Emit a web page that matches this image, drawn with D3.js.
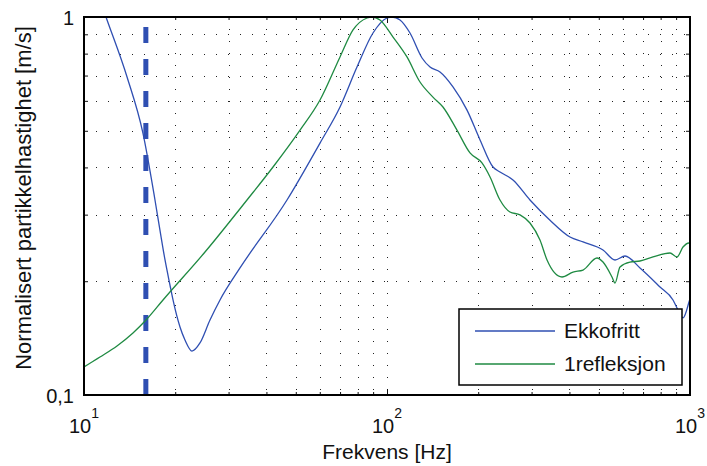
<!DOCTYPE html>
<html>
<head>
<meta charset="utf-8">
<script src="https://cdn.jsdelivr.net/npm/d3@7"></script>
<style>
  html, body { margin: 0; padding: 0; background: #fff; }
  svg { display: block; }
  text { font-family: "Liberation Sans", Arial, sans-serif; fill: #111; }
</style>
</head>
<body>
<svg id="chart" width="707" height="466"></svg>
<script>
// Frequency response, normalised particle velocity
const ekkoFreq = [10, 11.82, 13.87, 15.65, 17.15, 17.81, 18.51, 19.22, 19.67, 20.74, 21.54, 22.72, 24.14, 26.05, 28.11, 32.72, 46.77, 60.1, 69.98, 79.6, 89.9, 100, 103.9, 110.4, 119.1, 130.5, 138.7, 149.6, 165.1, 183.7, 202.8, 223.8, 236.0, 260.5, 296.4, 345.1, 401.8, 443.6, 516.3, 565.6, 610.3, 683.9, 796.1, 878.9, 906.0, 948.2, 992.4, 1000];
const ekkoVal  = [1.47, 1.0, 0.694, 0.493, 0.328, 0.273, 0.2276, 0.1954, 0.1784, 0.1513, 0.1398, 0.1307, 0.1373, 0.1579, 0.1784, 0.2168, 0.328, 0.464, 0.578, 0.737, 0.907, 0.994, 1.0, 0.982, 0.907, 0.779, 0.737, 0.715, 0.653, 0.567, 0.473, 0.401, 0.389, 0.3705, 0.328, 0.290, 0.2618, 0.2540, 0.2419, 0.2276, 0.2332, 0.2168, 0.1931, 0.1784, 0.1699, 0.1599, 0.1762, 0.18];

const reflFreq = [10, 11.29, 12.85, 14.51, 16.02, 18.23, 25.08, 34.51, 42.06, 51.64, 60.1, 69.98, 77.24, 85.9, 89.2, 94.8, 104.7, 116.4, 128.5, 141.8, 153.0, 170.2, 187.9, 205.8, 218.8, 236.0, 254.6, 274.8, 296.4, 319.8, 337.4, 378.1, 411.1, 443.6, 493.3, 516.3, 552.8, 565.6, 587.5, 633.9, 683.9, 755.0, 859.0, 906.0, 948.2, 992.4, 1000];
const reflVal  = [0.1186, 0.1260, 0.1348, 0.1459, 0.1579, 0.1784, 0.2389, 0.328, 0.401, 0.502, 0.603, 0.784, 0.924, 0.994, 1.0, 0.982, 0.885, 0.784, 0.673, 0.614, 0.578, 0.502, 0.437, 0.411, 0.3774, 0.328, 0.3049, 0.2995, 0.2851, 0.2570, 0.2276, 0.2052, 0.2115, 0.2141, 0.2304, 0.2248, 0.2052, 0.1978, 0.2182, 0.2248, 0.2262, 0.2318, 0.2375, 0.2318, 0.2463, 0.2524, 0.2524];

const seriesNames = ["Ekkofritt", "1refleksjon"];
const markerFreq = [16];

const xMajor = [10, 100, 1000];
const xMinor = [20, 30, 40, 50, 60, 70, 80, 90, 200, 300, 400, 500, 600, 700, 800, 900];
const xTickExp = ["1", "2", "3"];
const yMajor = [0.1, 1];
const yMinor = [0.2, 0.3, 0.4, 0.5, 0.6, 0.7, 0.8, 0.9];
const yTickLabels = ["0,1", "1"];

const xTitle = "Frekvens [Hz]";
const yTitle = "Normalisert partikkelhastighet [m/s]";

const blue = "#2f4fb2";
const green = "#1f8a42";

const m = { left: 84, right: 690, top: 17, bottom: 395 };
const svg = d3.select("#chart");

const x = d3.scaleLog().domain([10, 1000]).range([m.left, m.right]);
const y = d3.scaleLog().domain([0.1, 1]).range([m.bottom, m.top]);

svg.append("defs").append("clipPath").attr("id", "plotclip")
  .append("rect").attr("x", m.left).attr("y", m.top)
  .attr("width", m.right - m.left).attr("height", m.bottom - m.top);

// dotted grid
const grid = svg.append("g").attr("stroke", "#222").attr("stroke-width", 1)
  .attr("stroke-dasharray", "1,11");
grid.selectAll("line.v").data(xMinor.concat([100])).join("line")
  .attr("x1", d => Math.round(x(d)) + 0.5).attr("x2", d => Math.round(x(d)) + 0.5)
  .attr("y1", m.top).attr("y2", m.bottom);
grid.selectAll("line.h").data(yMinor).join("line")
  .attr("y1", d => Math.round(y(d)) + 0.5).attr("y2", d => Math.round(y(d)) + 0.5)
  .attr("x1", m.left).attr("x2", m.right);

// inward ticks on all four sides
function ticks(axisFn, scale, vals, size, tx, ty) {
  const g = svg.append("g").attr("transform", `translate(${tx},${ty})`)
    .call(axisFn(scale).tickValues(vals).tickSize(size).tickFormat(""));
  g.select(".domain").remove();
  g.selectAll("line").attr("stroke", "#111").attr("stroke-width", 1);
}
ticks(d3.axisBottom, x, xMinor, -3, 0, m.bottom);
ticks(d3.axisBottom, x, xMajor, -6, 0, m.bottom);
ticks(d3.axisTop, x, xMinor, -3, 0, m.top);
ticks(d3.axisTop, x, xMajor, -6, 0, m.top);
ticks(d3.axisLeft, y, yMinor, -4, m.left, 0);
ticks(d3.axisRight, y, yMinor, -4, m.right, 0);

// curves
const line = d3.line().curve(d3.curveMonotoneX);
const plot = svg.append("g").attr("clip-path", "url(#plotclip)");

// marker line at 16 Hz
plot.selectAll("line.marker").data(markerFreq).join("line")
  .attr("x1", d => x(d)).attr("x2", d => x(d))
  .attr("y1", m.bottom).attr("y2", m.top)
  .attr("stroke", blue).attr("stroke-width", 5).attr("stroke-dasharray", "16,16");

plot.append("path")
  .attr("d", line(ekkoFreq.map((f, i) => [x(f), y(ekkoVal[i])])))
  .attr("fill", "none").attr("stroke", blue).attr("stroke-width", 1.3);
plot.append("path")
  .attr("d", line(reflFreq.map((f, i) => [x(f), y(reflVal[i])])))
  .attr("fill", "none").attr("stroke", green).attr("stroke-width", 1.3);

// axes box
svg.append("rect").attr("x", m.left).attr("y", m.top)
  .attr("width", m.right - m.left).attr("height", m.bottom - m.top)
  .attr("fill", "none").attr("stroke", "#000").attr("stroke-width", 2);

// tick labels
const xl = svg.append("g").selectAll("text").data(xMajor).join("text")
  .attr("x", d => x(d)).attr("y", 433).attr("text-anchor", "middle")
  .style("font-size", "20px");
xl.append("tspan").text("10");
xl.append("tspan").attr("dy", -15).style("font-size", "14px").text((d, i) => xTickExp[i]);

svg.append("g").selectAll("text").data(yMajor).join("text")
  .attr("x", 74).attr("y", d => y(d) + 8).attr("text-anchor", "end")
  .style("font-size", "20px").text((d, i) => yTickLabels[i]);

// axis titles
svg.append("text").attr("x", (m.left + m.right) / 2).attr("y", 459)
  .attr("text-anchor", "middle").style("font-size", "21px").text(xTitle);
svg.append("text").attr("transform", `translate(30.5,${(m.top + m.bottom) / 2 - 8}) rotate(-90)`)
  .attr("text-anchor", "middle").style("font-size", "22px").text(yTitle);

// legend
const lg = svg.append("g");
lg.append("rect").attr("x", 459).attr("y", 309).attr("width", 223).attr("height", 76)
  .attr("fill", "#fff").attr("stroke", "#000").attr("stroke-width", 1.5);
const entries = lg.selectAll("g.entry").data(seriesNames).join("g")
  .attr("transform", (d, i) => `translate(0,${331 + i * 33})`);
entries.append("line").attr("x1", 475).attr("x2", 555).attr("y1", 0).attr("y2", 0)
  .attr("stroke", (d, i) => i === 0 ? blue : green).attr("stroke-width", 1.3);
entries.append("text").attr("x", 564).attr("y", 7).style("font-size", "21px").text(d => d);
</script>
</body>
</html>
